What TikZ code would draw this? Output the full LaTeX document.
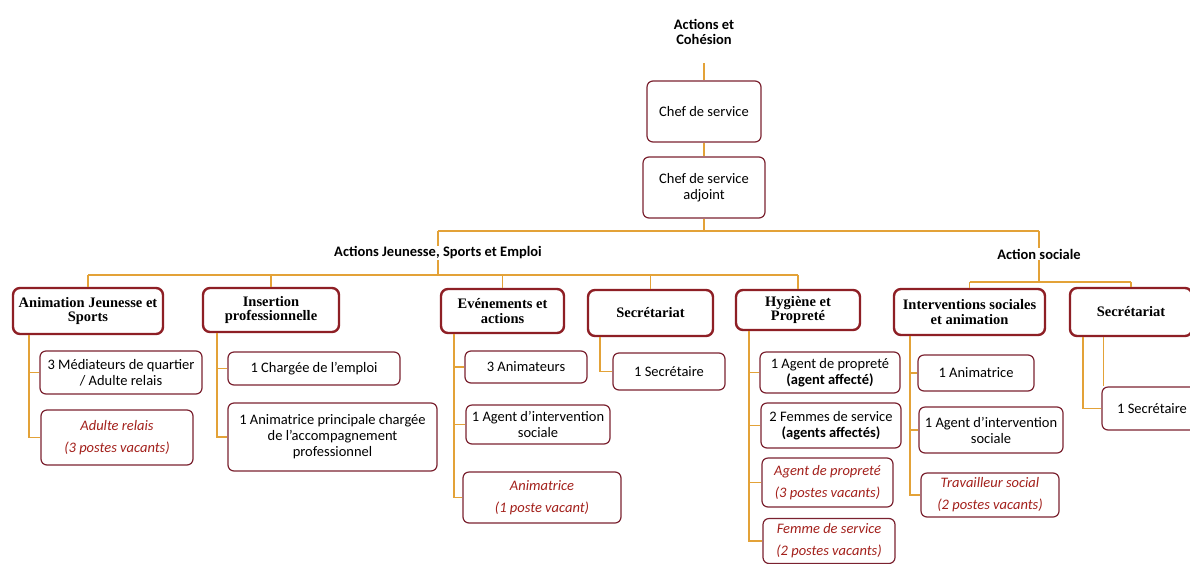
\documentclass[tikz,border=0pt]{standalone}
\usepackage{fontspec}
\setmainfont{Liberation Serif}
\newfontfamily\calfont{Carlito}
\definecolor{boxred}{HTML}{8E1F25}
\definecolor{itemred}{HTML}{7B2230}
\definecolor{vacred}{HTML}{A3201B}
\definecolor{conn}{HTML}{E3A238}
\tikzset{
 head/.style={draw=boxred, line width=2.4pt, rounded corners=7pt, fill=white, align=center, inner sep=0pt, font=\fontsize{14.5}{14.5}\selectfont\bfseries},
 item/.style={draw=itemred, line width=1.2pt, rounded corners=6pt, fill=white, align=center, inner sep=0pt, font=\calfont\fontsize{14.5}{16}\selectfont},
 vac/.style={item, text=vacred, font=\calfont\itshape\fontsize{14.5}{22}\selectfont},
 lbl/.style={font=\calfont\bfseries\fontsize{14.5}{15}\selectfont, align=center, inner sep=1pt},
 link/.style={draw=conn, line width=1.5pt},
}
\begin{document}
\begin{tikzpicture}[x=1pt,y=-1pt]
\fill[white] (0,0) rectangle (1190,563);
\clip (0,0) rectangle (1190,563);

% top
\node[lbl] (top) at (704,32) {Actions et\\Cohésion};
\node[item, minimum width=114pt, minimum height=61pt] (cs) at (704,111.5) {Chef de service};
\node[item, minimum width=122pt, minimum height=61pt] (csa) at (704,187.5) {Chef de service\\adjoint};
\node[lbl] (L1) at (438,253) {Actions Jeunesse, Sports et Emploi};
\node[lbl] (L2) at (1039,254) {Action sociale};

% heads
\node[head, minimum width=150pt, minimum height=46pt] (h1) at (88,311) {Animation Jeunesse et\\Sports};
\node[head, minimum width=136pt, minimum height=44pt] (h2) at (271,310) {Insertion\\professionnelle};
\node[head, minimum width=123pt, minimum height=44pt] (h3) at (502.5,311) {Evénements et\\actions};
\node[head, minimum width=125pt, minimum height=46pt] (h4) at (650.5,313) {Secrétariat};
\node[head, minimum width=124pt, minimum height=40pt] (h5) at (798,310) {Hygiène et\\Propreté};
\node[head, minimum width=151pt, minimum height=46pt] (h6) at (969.5,312) {Interventions sociales\\et animation};
\node[head, minimum width=122pt, minimum height=48pt] (h7) at (1131,312) {Secrétariat};

% children
\node[item, minimum width=162pt, minimum height=43pt] (c11) at (121,372.5) {3 Médiateurs de quartier\\/ Adulte relais};
\node[vac, minimum width=152pt, minimum height=55pt] (c12) at (117,437.5) {Adulte relais\\(3 postes vacants)};

\node[item, minimum width=172pt, minimum height=33pt] (c21) at (314,368.5) {1 Chargée de l’emploi};
\node[item, minimum width=209pt, minimum height=68pt] (c22) at (332.5,437) {1 Animatrice principale chargée\\de l’accompagnement\\professionnel};

\node[item, minimum width=122pt, minimum height=32pt] (c31) at (526,367) {3 Animateurs};
\node[item, minimum width=144pt, minimum height=39pt] (c32) at (538,424.5) {1 Agent d’intervention\\sociale};
\node[vac, minimum width=158pt, minimum height=51pt] (c33) at (542,497.5) {Animatrice\\(1 poste vacant)};

\node[item, minimum width=112pt, minimum height=37pt] (c41) at (669,371.5) {1 Secrétaire};

\node[item, minimum width=140pt, minimum height=41pt] (c51) at (830,372.5) {1 Agent de propreté\\{\bfseries (agent affecté)}};
\node[item, minimum width=140pt, minimum height=45pt] (c52) at (831,425.5) {2 Femmes de service\\{\bfseries (agents affectés)}};
\node[vac, minimum width=131pt, minimum height=49pt] (c53) at (827.5,482.5) {Agent de propreté\\(3 postes vacants)};
\node[vac, minimum width=132pt, minimum height=45pt] (c54) at (829,541) {Femme de service\\(2 postes vacants)};

\node[item, minimum width=116pt, minimum height=36pt] (c61) at (976,373) {1 Animatrice};
\node[item, minimum width=144pt, minimum height=46pt] (c62) at (991,430) {1 Agent d’intervention\\sociale};
\node[vac, minimum width=138pt, minimum height=44pt] (c63) at (990,495) {Travailleur social\\(2 postes vacants)};

\node[item, minimum width=100pt, minimum height=43pt] (c71) at (1152,408.5) {1 Secrétaire};

% top connectors
\coordinate (t0) at (704,63);
\coordinate (j0) at (704,231);
\coordinate (jl) at (438,231);
\coordinate (jr) at (1039,231);
\coordinate (k1) at (438,275);
\coordinate (ka) at (88,275);
\coordinate (kb) at (798,275);
\coordinate (m1) at (1039,282);
\draw[link] (t0) -- (cs.north);
\draw[link] (cs.south) -- (csa.north);
\draw[link] (csa.south) -- (j0);
\draw[link] (jl) -- (jr);
\draw[link] (jl) -- (L1.north);
\draw[link] (jr) -- (L2.north);
\draw[link] (L1.south) -- (k1);
\draw[link] (ka) -- (kb);
\foreach \h in {h1,h2,h3,h4,h5} {\draw[link] (\h.north |- ka) -- (\h.north);}
\draw[link] (L2.south) -- (m1);
\draw[link] (h6.north |- m1) -- (h7.north |- m1);
\draw[link] (h6.north |- m1) -- (h6.north);
\draw[link] (h7.north |- m1) -- (h7.north);

% child connectors
\coordinate (v1) at (29,0);
\coordinate (v2) at (217,0);
\coordinate (v3) at (454,0);
\coordinate (v4) at (600,0);
\coordinate (v5) at (749,0);
\coordinate (v6) at (910,0);
\coordinate (v7) at (1083,0);
\coordinate (v8) at (1103.5,0);
\draw[link] (h1.south -| v1) |- (c12.west);
\draw[link] (v1 |- c11.west) -- (c11.west);
\draw[link] (h2.south -| v2) |- (c22.west);
\draw[link] (v2 |- c21.west) -- (c21.west);
\draw[link] (h3.south -| v3) |- (c33.west);
\draw[link] (v3 |- c31.west) -- (c31.west);
\draw[link] (v3 |- c32.west) -- (c32.west);
\draw[link] (h4.south -| v4) |- (c41.west);
\draw[link] (h5.south -| v5) |- (c54.west);
\draw[link] (v5 |- c51.west) -- (c51.west);
\draw[link] (v5 |- c52.west) -- (c52.west);
\draw[link] (v5 |- c53.west) -- (c53.west);
\draw[link] (h6.south -| v6) |- (c63.west);
\draw[link] (v6 |- c61.west) -- (c61.west);
\draw[link] (v6 |- c62.west) -- (c62.west);
\draw[link] (h7.south -| v7) |- (c71.west);
\draw[link] (h7.south -| v8) -- (c71.north -| v8);
\end{tikzpicture}
\end{document}
